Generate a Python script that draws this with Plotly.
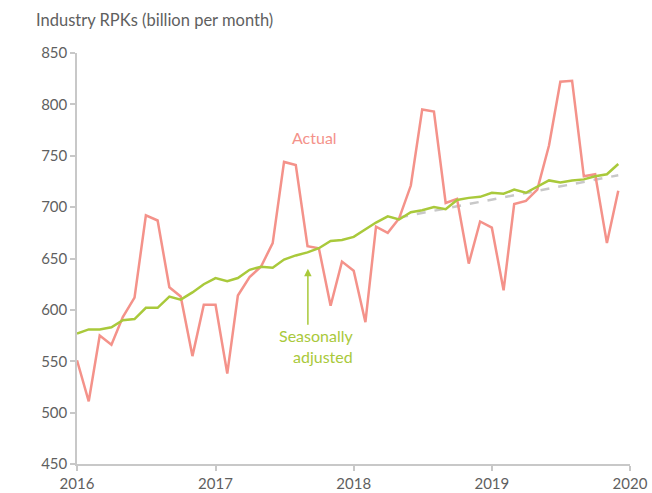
import pandas as pd
import plotly.graph_objects as go

months = pd.date_range("2016-01-01", periods=48, freq="MS")

actual = [
    551, 511, 575, 566, 593, 612, 692, 687, 622, 613, 555, 605,
    605, 538, 614, 632, 642, 665, 744, 741, 662, 660, 604, 647,
    638, 588, 681, 675, 689, 721, 795, 793, 704, 708, 645, 686,
    680, 619, 703, 706, 717, 760, 822, 823, 730, 732, 665, 716,
]
seasonally_adjusted = [
    577, 581, 581, 583, 590, 591, 602, 602, 613, 610, 617, 625,
    631, 628, 631, 639, 642, 641, 649, 653, 656, 660, 667, 668,
    671, 678, 685, 691, 688, 695, 697, 700, 698, 707, 709, 710,
    714, 713, 717, 714, 720, 726, 724, 726, 727, 730, 732, 742,
]
trend_dates = ["2018-05-01", "2019-12-01"]
trend_values = [690, 731]

year_ticks = ["2016-01-01", "2017-01-01", "2018-01-01", "2019-01-01", "2020-01-01"]
year_labels = ["2016", "2017", "2018", "2019", "2020"]
y_ticks = [450, 500, 550, 600, 650, 700, 750, 800, 850]

RED = "#F4928A"
GREEN = "#A9C93B"
GREY = "#C8C8C8"
TXT = "#5F5F5F"
FONT = "Lato"

fig = go.Figure()
fig.add_trace(go.Scatter(x=trend_dates, y=trend_values, mode="lines",
                         line=dict(color=GREY, width=2.5, dash="dash"),
                         showlegend=False, hoverinfo="skip"))
fig.add_trace(go.Scatter(x=months, y=actual, mode="lines",
                         line=dict(color=RED, width=2.5), name="Actual",
                         showlegend=False))
fig.add_trace(go.Scatter(x=months, y=seasonally_adjusted, mode="lines",
                         line=dict(color=GREEN, width=2.5), name="Seasonally adjusted",
                         showlegend=False))

fig.add_annotation(x="2017-09-20", y=768, text="Actual", showarrow=False,
                   font=dict(family=FONT, size=16, color=RED))
fig.add_annotation(x="2018-01-04", y=565, text="Seasonally<br>adjusted",
                   showarrow=False, xanchor="right", align="right",
                   font=dict(family=FONT, size=16, color=GREEN))
fig.add_annotation(x="2017-09-02", y=640, ax="2017-09-02", ay=584,
                   axref="x", ayref="y", xref="x", yref="y", text="",
                   showarrow=True, arrowhead=2, arrowsize=1, arrowwidth=1.5,
                   arrowcolor=GREEN)
fig.add_annotation(x=0, y=1, xref="paper", yref="paper", xanchor="left", yanchor="middle",
                   xshift=-43, yshift=33, text="Industry RPKs (billion per month)",
                   showarrow=False, font=dict(family=FONT, size=16.5, color=TXT))

fig.update_layout(
    width=652, height=493,
    margin=dict(l=77, r=22, t=53, b=29),
    paper_bgcolor="white", plot_bgcolor="white",
    font=dict(family=FONT, size=15, color=TXT),
)
fig.update_xaxes(range=["2016-01-01", "2020-01-01"], tickvals=year_ticks, ticktext=year_labels,
                 automargin=False,
                 showgrid=False, zeroline=False, showline=True, linecolor="#C8C8C8", linewidth=1.5,
                 ticks="outside", ticklen=5, tickcolor="#C8C8C8", tickwidth=1.5,
                 tickfont=dict(family=FONT, size=15, color=TXT))
fig.update_yaxes(range=[450, 850], tickvals=y_ticks, automargin=False,
                 showgrid=False, zeroline=False, showline=True, linecolor="#C8C8C8", linewidth=1.5,
                 ticks="outside", ticklen=5, tickcolor="#C8C8C8", tickwidth=1.5,
                 tickfont=dict(family=FONT, size=15, color=TXT))

fig.write_html("out.html", config={"displayModeBar": False},
               post_script="document.body.style.margin='0';document.body.style.overflow='hidden';")
